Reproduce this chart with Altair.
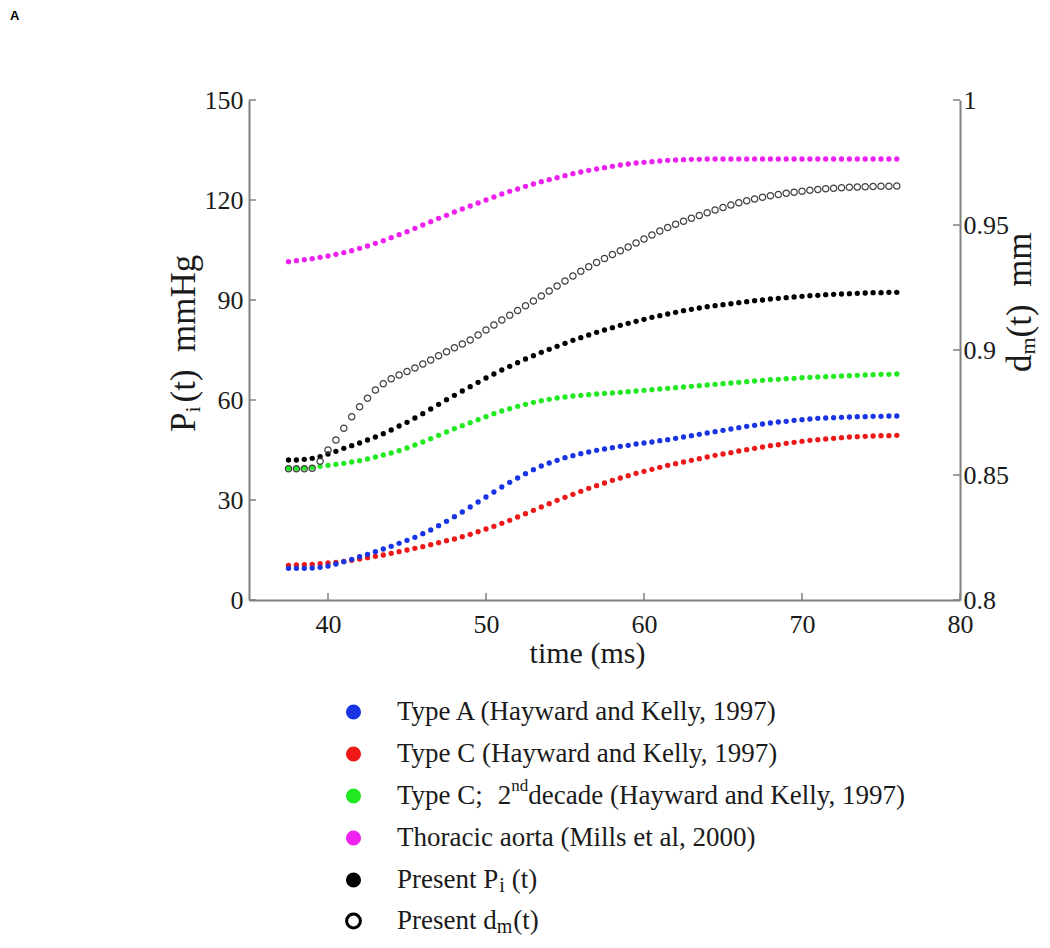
import altair as alt
import pandas as pd

# ---------------- data ----------------
TIME = [37.5, 38.0, 38.5, 39.0, 39.5, 40.0, 40.5, 41.0, 41.5, 42.0,
        42.5, 43.0, 43.5, 44.0, 44.5, 45.0, 45.5, 46.0, 46.5, 47.0,
        47.5, 48.0, 48.5, 49.0, 49.5, 50.0, 50.5, 51.0, 51.5, 52.0,
        52.5, 53.0, 53.5, 54.0, 54.5, 55.0, 55.5, 56.0, 56.5, 57.0,
        57.5, 58.0, 58.5, 59.0, 59.5, 60.0, 60.5, 61.0, 61.5, 62.0,
        62.5, 63.0, 63.5, 64.0, 64.5, 65.0, 65.5, 66.0, 66.5, 67.0,
        67.5, 68.0, 68.5, 69.0, 69.5, 70.0, 70.5, 71.0, 71.5, 72.0,
        72.5, 73.0, 73.5, 74.0, 74.5, 75.0, 75.5, 76.0]

TYPE_A = [9.5, 9.5, 9.5, 9.6, 9.8, 10.2, 10.8, 11.5, 12.2, 13.0,
          13.7, 14.5, 15.3, 16.1, 17.0, 17.9, 18.8, 19.9, 21.0, 22.3,
          23.6, 25.0, 26.4, 27.9, 29.4, 30.9, 32.4, 33.9, 35.3, 36.6,
          37.9, 39.1, 40.2, 41.1, 41.9, 42.7, 43.3, 43.9, 44.4, 44.9,
          45.3, 45.7, 46.1, 46.4, 46.8, 47.1, 47.4, 47.8, 48.1, 48.5,
          48.9, 49.3, 49.7, 50.1, 50.5, 50.9, 51.3, 51.7, 52.1, 52.4,
          52.8, 53.1, 53.4, 53.6, 53.9, 54.1, 54.3, 54.5, 54.6, 54.7,
          54.8, 54.9, 55.0, 55.0, 55.1, 55.1, 55.2, 55.2]

TYPE_C = [10.4, 10.5, 10.6, 10.7, 10.9, 11.1, 11.3, 11.6, 11.9, 12.3,
          12.7, 13.1, 13.5, 14.0, 14.5, 15.0, 15.5, 16.0, 16.6, 17.2,
          17.8, 18.3, 19.0, 19.7, 20.5, 21.3, 22.1, 23.0, 23.9, 24.9,
          25.9, 26.9, 27.9, 28.9, 29.9, 30.8, 31.7, 32.6, 33.5, 34.3,
          35.1, 35.9, 36.6, 37.3, 38.0, 38.6, 39.2, 39.8, 40.4, 40.9,
          41.4, 41.9, 42.4, 42.9, 43.4, 43.8, 44.2, 44.7, 45.1, 45.5,
          45.9, 46.3, 46.6, 47.0, 47.3, 47.6, 47.9, 48.1, 48.3, 48.5,
          48.7, 48.9, 49.0, 49.1, 49.2, 49.3, 49.3, 49.4]

TYPE_C_2ND = [39.5, 39.5, 39.6, 39.8, 40.1, 40.4, 40.7, 41.0, 41.4, 41.8,
              42.3, 42.9, 43.5, 44.1, 44.8, 45.6, 46.5, 47.4, 48.4, 49.4,
              50.4, 51.4, 52.3, 53.2, 54.1, 55.0, 55.9, 56.7, 57.4, 58.1,
              58.7, 59.3, 59.8, 60.2, 60.6, 60.9, 61.2, 61.4, 61.6, 61.8,
              62.0, 62.1, 62.3, 62.5, 62.7, 62.9, 63.1, 63.3, 63.5, 63.7,
              63.9, 64.1, 64.3, 64.5, 64.7, 64.9, 65.1, 65.3, 65.5, 65.7,
              65.9, 66.1, 66.2, 66.4, 66.5, 66.7, 66.8, 66.9, 67.0, 67.1,
              67.2, 67.3, 67.4, 67.5, 67.6, 67.7, 67.7, 67.8]

THORACIC = [101.5, 101.8, 102.1, 102.4, 102.8, 103.2, 103.7, 104.2, 104.8, 105.5,
            106.2, 107.0, 107.8, 108.7, 109.6, 110.5, 111.5, 112.5, 113.5, 114.5,
            115.4, 116.4, 117.3, 118.2, 119.1, 120.0, 120.9, 121.8, 122.6, 123.3,
            124.1, 124.8, 125.5, 126.1, 126.7, 127.3, 127.9, 128.4, 128.9, 129.3,
            129.7, 130.1, 130.5, 130.8, 131.1, 131.3, 131.5, 131.7, 131.9, 132.0,
            132.1, 132.2, 132.2, 132.3, 132.3, 132.3, 132.3, 132.3, 132.3, 132.3,
            132.3, 132.3, 132.3, 132.3, 132.3, 132.3, 132.3, 132.3, 132.3, 132.3,
            132.3, 132.3, 132.3, 132.3, 132.3, 132.3, 132.3, 132.3]

PRESENT_PI = [42.0, 42.0, 42.2, 42.5, 43.0, 43.8, 44.6, 45.5, 46.3, 47.1,
              48.0, 48.9, 49.9, 51.0, 52.2, 53.3, 54.6, 55.9, 57.3, 58.7,
              60.1, 61.4, 62.7, 64.0, 65.3, 66.6, 67.8, 69.0, 70.1, 71.2,
              72.3, 73.3, 74.3, 75.2, 76.1, 77.0, 77.9, 78.7, 79.5, 80.3,
              81.0, 81.7, 82.4, 83.0, 83.6, 84.2, 84.8, 85.3, 85.8, 86.3,
              86.8, 87.2, 87.6, 88.0, 88.3, 88.6, 88.9, 89.2, 89.5, 89.8,
              90.0, 90.3, 90.5, 90.7, 90.9, 91.1, 91.3, 91.4, 91.6, 91.7,
              91.8, 91.9, 92.0, 92.1, 92.2, 92.2, 92.3, 92.3]

PRESENT_DM = [0.8525, 0.8525, 0.8525, 0.8527, 0.8555, 0.8600, 0.8640, 0.8687, 0.8733, 0.8773,
              0.8807, 0.8840, 0.8865, 0.8885, 0.8900, 0.8914, 0.8928, 0.8944, 0.8960, 0.8977,
              0.8993, 0.9009, 0.9024, 0.9040, 0.9060, 0.9080, 0.9100, 0.9120, 0.9139, 0.9158,
              0.9177, 0.9196, 0.9216, 0.9236, 0.9256, 0.9276, 0.9296, 0.9315, 0.9333, 0.9350,
              0.9366, 0.9382, 0.9397, 0.9412, 0.9428, 0.9444, 0.9460, 0.9476, 0.9490, 0.9503,
              0.9515, 0.9527, 0.9538, 0.9549, 0.9560, 0.9570, 0.9580, 0.9589, 0.9597, 0.9604,
              0.9611, 0.9617, 0.9622, 0.9627, 0.9631, 0.9635, 0.9639, 0.9642, 0.9645, 0.9647,
              0.9649, 0.9651, 0.9652, 0.9653, 0.9654, 0.9655, 0.9655, 0.9656]

SERIES = ["Type C", "Type A", "Type C 2nd decade", "Thoracic aorta", "Present Pi"]
SERIES_VALUES = [TYPE_C, TYPE_A, TYPE_C_2ND, THORACIC, PRESENT_PI]
SERIES_COLORS = ["#ee1818", "#1834e4", "#22ea22", "#ee22ee", "#000000"]

X_TICKS = [40, 50, 60, 70, 80]
Y_TICKS = [0, 30, 60, 90, 120, 150]
DM_TICKS = [0.8, 0.85, 0.9, 0.95, 1.0]

# ---------------- layout / style ----------------
W, H = 711, 500
SERIF = "Liberation Serif"
GRAY = "#808080"
INK = "#1a1a1a"

TIMES = {' ': 250, '\u00a0': 250, '(': 333, ')': 333, ',': 250, '.': 250, ';': 278,
         'A': 722, 'C': 667, 'H': 722, 'K': 722, 'M': 889, 'P': 556, 'T': 611,
         'a': 444, 'c': 444, 'd': 500, 'e': 444, 'g': 500, 'h': 500, 'i': 278,
         'k': 500, 'l': 278, 'm': 778, 'n': 500, 'o': 500, 'r': 333, 's': 389,
         't': 278, 'v': 500, 'w': 722, 'y': 500}


def tw(s, size):
    return sum(TIMES.get(c, 500) for c in s) / 1000.0 * size


ONE = pd.DataFrame({"k": [0]})


def txt(s, x, y, size, angle=0, align="left", baseline="alphabetic",
        font=SERIF, weight="normal", color=INK):
    return alt.Chart(ONE).mark_text(
        text=s, fontSize=size, font=font, angle=angle, align=align,
        baseline=baseline, fontWeight=weight, color=color
    ).encode(x=alt.value(x), y=alt.value(y))


x_scale = alt.Scale(domain=[35, 80], nice=False, zero=False)
pi_scale = alt.Scale(domain=[0, 150], nice=False, zero=False)
dm_scale = alt.Scale(domain=[0.8, 1.0], nice=False, zero=False)

rows = []
for name, vals in zip(SERIES, SERIES_VALUES):
    for t, v in zip(TIME, vals):
        rows.append({"time": t, "value": v, "series": name})
pi_df = pd.DataFrame(rows)
dm_df = pd.DataFrame({"time": TIME, "dm": PRESENT_DM})

axis_common = dict(title=None, grid=False, ticks=False, tickSize=0,
                   domainColor=GRAY, domainWidth=2, labelFont=SERIF,
                   labelFontSize=26, labelColor=INK)
x_axis = alt.Axis(values=X_TICKS, labelFlush=False, labelPadding=11, **axis_common)

pi_layer = alt.Chart(pi_df).mark_circle(size=28, opacity=1).encode(
    x=alt.X("time:Q", scale=x_scale, axis=x_axis),
    y=alt.Y("value:Q", scale=pi_scale,
            axis=alt.Axis(orient="left", values=Y_TICKS, labelPadding=6,
                          **axis_common)),
    color=alt.Color("series:N", scale=alt.Scale(domain=SERIES, range=SERIES_COLORS),
                    legend=None),
)

dm_layer = alt.Chart(dm_df).mark_point(
    shape="circle", filled=False, size=40, strokeWidth=1.2, color="#404040", opacity=1
).encode(
    x=alt.X("time:Q", scale=x_scale, axis=x_axis),
    y=alt.Y("dm:Q", scale=dm_scale,
            axis=alt.Axis(orient="right", values=DM_TICKS, format="~g",
                          labelPadding=3, **axis_common)),
)

# inward ticks
xtick = alt.Chart(pd.DataFrame({"time": X_TICKS})).mark_rule(color=GRAY, strokeWidth=1.5).encode(
    x=alt.X("time:Q", scale=x_scale, axis=x_axis), y=alt.value(H), y2=alt.value(H - 7))
ytick_l = alt.Chart(pd.DataFrame({"v": Y_TICKS})).mark_rule(color=GRAY, strokeWidth=1.5).encode(
    y=alt.Y("v:Q", scale=pi_scale, axis=None), x=alt.value(0), x2=alt.value(7))
ytick_r = alt.Chart(pd.DataFrame({"v": DM_TICKS})).mark_rule(color=GRAY, strokeWidth=1.5).encode(
    y=alt.Y("v:Q", scale=dm_scale, axis=None), x=alt.value(W), x2=alt.value(W - 7))

texts = []
# panel letter
texts.append(txt("A", -239, -90, 13, baseline="top", font="Liberation Sans", weight="bold",
                 color="#000000"))

# left axis title  P_i (t)  mmHg  (rotated, reading upward)
TS = 35
SUB = 22
lx, ly = -54, 332
texts.append(txt("P", lx, ly, TS, angle=270))
ly2 = ly - tw("P", TS)
texts.append(txt("i", lx + 5, ly2, SUB, angle=270))
ly3 = ly2 - tw("i", SUB) - 4
texts.append(txt("\u00a0(t)\u00a0\u00a0mmHg", lx, ly3, TS, angle=270))

# right axis title  d_m(t)  mm
rx, ry = 782, 272
texts.append(txt("d", rx, ry, TS, angle=270))
ry2 = ry - tw("d", TS)
texts.append(txt("m", rx + 4, ry2, SUB, angle=270))
ry3 = ry2 - tw("m", SUB)
texts.append(txt("(t)\u00a0\u00a0mm", rx, ry3, TS, angle=270))

# x axis title
texts.append(txt("time (ms)", 338.5, 563, 30, align="center"))

# legend
LEG_FS = 27
LEG_SUB = 20
SYM_X = 104.5
TXT_X = 148
ROW_Y = [612, 654, 696, 738, 780, 821]
LEG_COLORS = ["#1834e4", "#ee1818", "#22ea22", "#ee22ee", "#000000"]

legend = []
for c, yy in zip(LEG_COLORS, ROW_Y[:5]):
    legend.append(alt.Chart(ONE).mark_circle(size=227, color=c, opacity=1).encode(
        x=alt.value(SYM_X), y=alt.value(yy)))
legend.append(alt.Chart(ONE).mark_point(shape="circle", filled=False, size=190, strokeWidth=3,
                                        color="#000000", opacity=1).encode(
    x=alt.value(SYM_X), y=alt.value(ROW_Y[5])))

legend.append(txt("Type A (Hayward and Kelly, 1997)", TXT_X, ROW_Y[0], LEG_FS, baseline="middle"))
legend.append(txt("Type C (Hayward and Kelly, 1997)", TXT_X, ROW_Y[1], LEG_FS, baseline="middle"))
# Type C; 2nd decade
legend.append(txt("Type C;", TXT_X, ROW_Y[2], LEG_FS, baseline="middle"))
two_x = TXT_X + tw("Type C;", LEG_FS) + 13
legend.append(txt("2", two_x, ROW_Y[2], LEG_FS, baseline="middle"))
nd_x = two_x + tw("2", LEG_FS)
legend.append(txt("nd", nd_x, ROW_Y[2] - 10, 17, baseline="middle"))
dec_x = nd_x + tw("nd", 17)
legend.append(txt("decade (Hayward and Kelly, 1997)", dec_x, ROW_Y[2], LEG_FS, baseline="middle"))
legend.append(txt("Thoracic aorta (Mills et al, 2000)", TXT_X, ROW_Y[3], LEG_FS, baseline="middle"))
# Present P_i (t)
legend.append(txt("Present P", TXT_X, ROW_Y[4], LEG_FS, baseline="middle"))
pi_x = TXT_X + tw("Present P", LEG_FS)
legend.append(txt("i", pi_x + 1, ROW_Y[4] + 6, LEG_SUB, baseline="middle"))
legend.append(txt("(t)", pi_x + tw("i", LEG_SUB) + 8, ROW_Y[4], LEG_FS, baseline="middle"))
# Present d_m(t)
legend.append(txt("Present d", TXT_X, ROW_Y[5], LEG_FS, baseline="middle"))
dm_x = TXT_X + tw("Present d", LEG_FS)
legend.append(txt("m", dm_x, ROW_Y[5] + 6, LEG_SUB, baseline="middle"))
legend.append(txt("(t)", dm_x + tw("m", LEG_SUB) + 1, ROW_Y[5], LEG_FS, baseline="middle"))

chart = alt.layer(
    pi_layer, dm_layer, xtick, ytick_l, ytick_r, *texts, *legend
).resolve_scale(y="independent").properties(
    width=W, height=H,
    autosize=alt.AutoSizeParams(type="none"),
    padding={"left": 241, "top": 92, "right": 82, "bottom": 340},
    background="white",
).configure_view(stroke=None)

chart.save("out.html", embed_options={"renderer": "svg", "actions": False})
